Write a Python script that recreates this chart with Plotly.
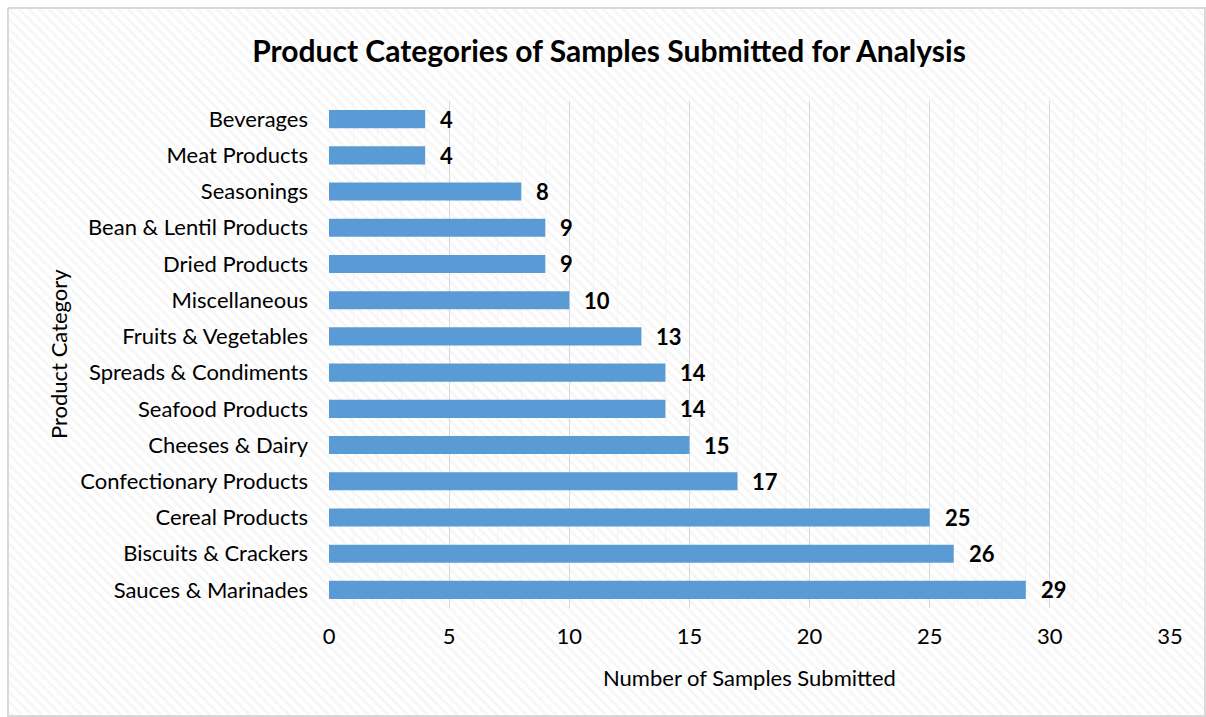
import plotly.graph_objects as go

categories = ["Beverages", "Meat Products", "Seasonings", "Bean & Lentil Products",
              "Dried Products", "Miscellaneous", "Fruits & Vegetables", "Spreads & Condiments",
              "Seafood Products", "Cheeses & Dairy", "Confectionary Products", "Cereal Products",
              "Biscuits & Crackers", "Sauces & Marinades"]
samples = [4, 4, 8, 9, 9, 10, 13, 14, 14, 15, 17, 25, 26, 29]
x_ticks = [0, 5, 10, 15, 20, 25, 30, 35]

W, H = 1206, 717
FONT = "Lato"

fig = go.Figure()

# decorative hatched background on a full-page helper axis (pixel coordinates)
fig.add_trace(go.Scatter(
    x=[8, 1205, 1205, 8, 8], y=[8, 8, 716, 716, 8],
    mode="lines", fill="toself",
    line=dict(color="#d9d9d9", width=2),
    fillcolor="white",
    fillpattern=dict(shape="\\", fgcolor="#ececec", bgcolor="white", size=7, solidity=0.35),
    hoverinfo="skip", showlegend=False, xaxis="x", yaxis="y"))

fig.add_trace(go.Bar(
    x=samples, y=categories, orientation="h",
    marker=dict(color="#5b9bd5", line=dict(width=0)),
    width=0.5, xaxis="x2", yaxis="y2", showlegend=False))

for c, v in zip(categories, samples):
    fig.add_annotation(x=v, y=c, xref="x2", yref="y2", text=f"<b>{v}</b>",
                       showarrow=False, xanchor="left", xshift=13,
                       font=dict(family=FONT, size=22, color="black"))

# axis titles placed on the page helper axes
fig.add_annotation(x=749, y=677, xref="x", yref="y", text="Number of Samples Submitted",
                   showarrow=False, xanchor="center", yanchor="middle",
                   font=dict(family=FONT, size=22, color="black"))
fig.add_annotation(x=58, y=354, xref="x", yref="y", text="Product Category",
                   showarrow=False, textangle=-90, xanchor="center", yanchor="middle",
                   font=dict(family=FONT, size=22, color="black"))

fig.update_layout(
    width=W, height=H,
    margin=dict(l=0, r=0, t=0, b=0, autoexpand=False),
    paper_bgcolor="white", plot_bgcolor="rgba(0,0,0,0)",
    font=dict(family=FONT, size=22, color="black"),
    title=dict(text="<b>Product Categories of Samples Submitted for Analysis</b>",
               x=609 / W, xanchor="center", y=1 - 51 / H, yanchor="middle",
               automargin=False,
               font=dict(family=FONT, size=30, color="black")),
    xaxis=dict(domain=[0, 1], range=[0, W], visible=False, fixedrange=True, automargin=False),
    yaxis=dict(domain=[0, 1], range=[H, 0], visible=False, fixedrange=True, automargin=False),
    xaxis2=dict(domain=[329 / W, 1170 / W], anchor="y2", range=[0, 35],
                tickvals=x_ticks, ticks="", showline=False, zeroline=False,
                showgrid=True, gridcolor="#d9d9d9", gridwidth=1,
                minor=dict(dtick=1, showgrid=True, gridcolor="#f3f3f3", gridwidth=1),
                tickfont=dict(family=FONT, size=22), ticklabelstandoff=13,
                automargin=False),
    yaxis2=dict(domain=[109 / H, 616 / H], anchor="x2", autorange="reversed",
                ticks="", showline=False, showgrid=False,
                tickfont=dict(family=FONT, size=22), ticklabelstandoff=20,
                automargin=False),
    bargap=0.5,
)

fig.write_html("out.html")
